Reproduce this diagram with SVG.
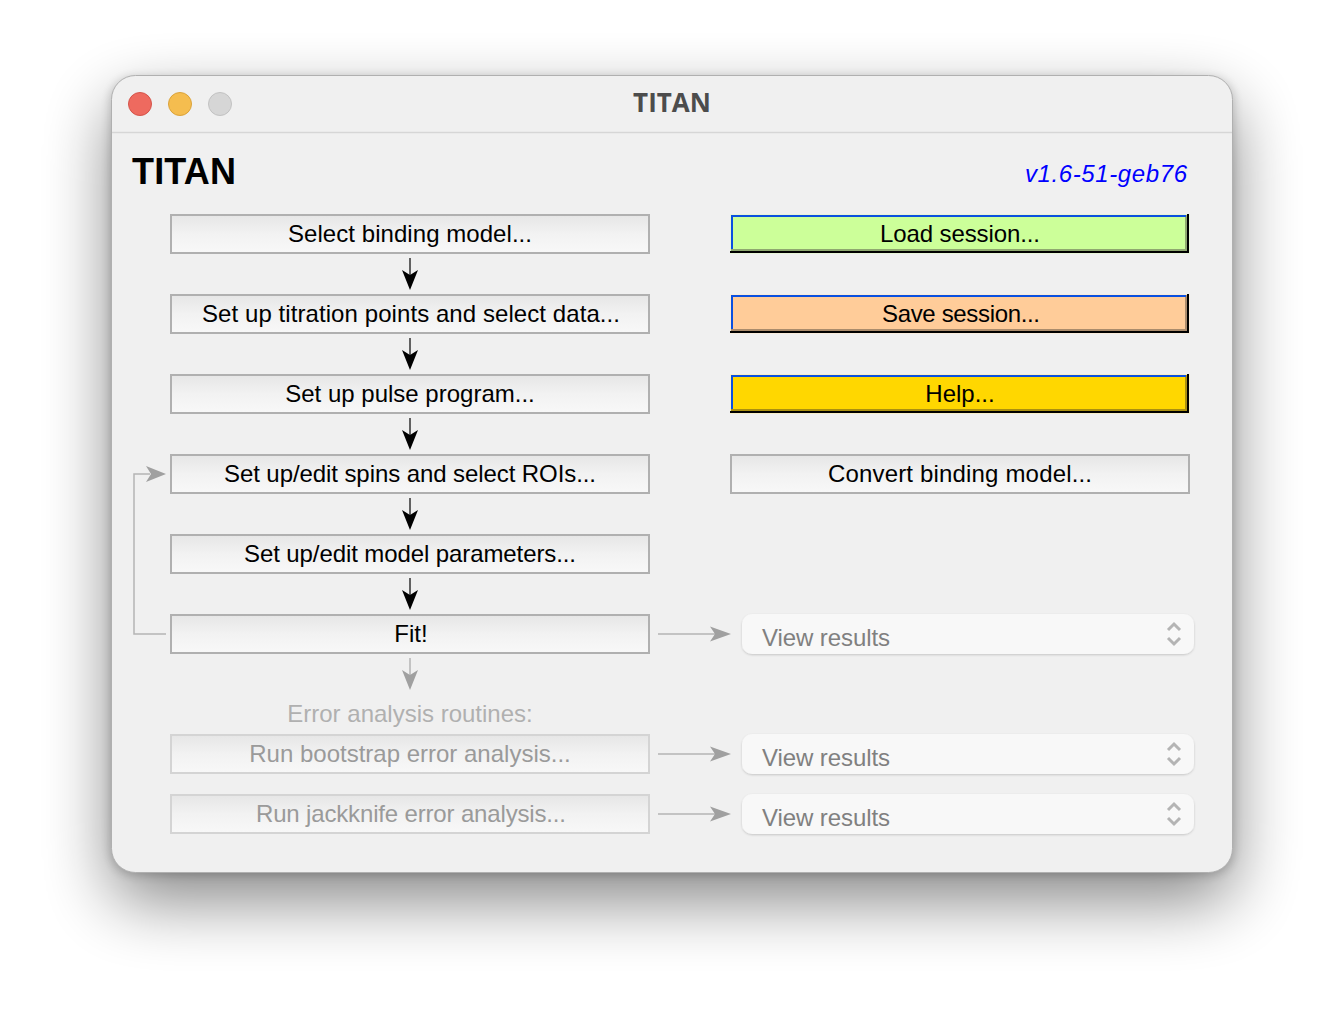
<svg xmlns="http://www.w3.org/2000/svg" width="1344" height="1020" viewBox="0 0 1344 1020">
<style>
text{font-family:"Liberation Sans",Arial,sans-serif;font-size:24px;text-anchor:middle;fill:#000}
.btn{fill:url(#bg);stroke:#b0b0b0;stroke-width:2}
.dis{fill:url(#bg);stroke:#d4d4d4;stroke-width:2}
.dt{fill:#9a9a9a}
.vt{fill:#808080;text-anchor:start}
.pop{fill:#f8f8f8;filter:url(#ps)}
.chev{fill:none;stroke:#b4b4b4;stroke-width:3}
.k{stroke:#333;stroke-width:1.500;fill:none}
.h{stroke:#b4b4b4;stroke-width:1.500;fill:none}
.blue{fill:#0a50e0}
.blk{fill:#000}
</style>
<defs>
<linearGradient id="bg" x1="0" y1="0" x2="0" y2="1"><stop offset="0" stop-color="#e6e6e6"/><stop offset="0.5" stop-color="#f2f2f2"/><stop offset="1" stop-color="#f8f8f8"/></linearGradient>
<filter id="sh" x="-20%" y="-25%" width="140%" height="150%"><feGaussianBlur stdDeviation="34"/></filter>
<filter id="sh2" x="-5%" y="-5%" width="110%" height="110%"><feGaussianBlur stdDeviation="5"/></filter>
<filter id="ps" x="-5%" y="-30%" width="110%" height="170%"><feDropShadow dx="0" dy="1" stdDeviation="1" flood-color="#000" flood-opacity="0.18"/></filter>
<path id="ad" d="M410 290L402 270L410 275L418 270Z"/>
</defs>
<rect width="1344" height="1020" fill="#fff"/>
<rect x="112" y="104" width="1120" height="796" rx="24" fill="#000" opacity="0.48" filter="url(#sh)"/>
<rect x="110" y="77" width="1124" height="798" rx="24" fill="#000" opacity="0.18" filter="url(#sh2)"/>
<rect x="111.500" y="75.500" width="1121" height="797" rx="24" fill="#f0f0f0" stroke="#b0b0b0"/>
<g id="titlebar">
<path d="M112 132.500H1232" stroke="#d6d6d6" stroke-width="1.500"/>
<circle cx="140" cy="104" r="11.500" fill="#ee6a5f" stroke="#d5544a"/>
<circle cx="180" cy="104" r="11.500" fill="#f5bd4f" stroke="#dba33a"/>
<circle cx="220" cy="104" r="11.500" fill="#d6d6d6" stroke="#c2c2c2"/>
<text x="672" y="112" style="font-size:26px;font-weight:bold;fill:#4c4c4c;font-family:'Open Sans','Liberation Sans',sans-serif">TITAN</text>
</g>
<g id="heading"><text x="132" y="184" textLength="104" style="font-size:36px;font-weight:bold;text-anchor:start">TITAN</text></g>
<g id="version"><text x="1025" y="182" textLength="162" style="font-size:24px;font-style:italic;fill:#0000ff;text-anchor:start">v1.6-51-geb76</text></g>
<g id="connectors">
<path class="k" d="M410 258V280M410 338V360M410 418V440M410 498V520M410 578V600"/>
<use href="#ad"/><use href="#ad" y="80"/><use href="#ad" y="160"/><use href="#ad" y="240"/><use href="#ad" y="320"/>
<path class="h" d="M410 658V680"/><use href="#ad" y="400" fill="#a0a0a0"/>
<path class="h" d="M166 634H134V474H150"/>
<path d="M166 474L146 466L151 474L146 482Z" fill="#a0a0a0"/>
<path class="h" d="M658 634H716M658 754H716M658 814H716"/>
<path d="M731 634L710 626.500L715 634L710 641.500Z" fill="#a0a0a0"/>
<path d="M731 754L710 746.500L715 754L710 761.500Z" fill="#a0a0a0"/>
<path d="M731 814L710 806.500L715 814L710 821.500Z" fill="#a0a0a0"/>
</g>
<g id="n1"><rect class="btn" x="171" y="215" width="478" height="38"/><text x="410" y="242" textLength="244">Select binding model...</text></g>
<g id="n2"><rect class="btn" x="171" y="295" width="478" height="38"/><text x="411" y="322" textLength="418">Set up titration points and select data...</text></g>
<g id="n3"><rect class="btn" x="171" y="375" width="478" height="38"/><text x="410" y="402">Set up pulse program...</text></g>
<g id="n4"><rect class="btn" x="171" y="455" width="478" height="38"/><text x="410" y="482" textLength="372">Set up/edit spins and select ROIs...</text></g>
<g id="n5"><rect class="btn" x="171" y="535" width="478" height="38"/><text x="410" y="562" textLength="332">Set up/edit model parameters...</text></g>
<g id="n6"><rect class="btn" x="171" y="615" width="478" height="38"/><text x="411" y="642">Fit!</text></g>
<g id="n7"><text class="dt" x="410" y="722" style="fill:#b0b0b0">Error analysis routines:</text></g>
<g id="n8"><rect class="dis" x="171" y="735" width="478" height="38"/><text class="dt" x="410" y="762">Run bootstrap error analysis...</text></g>
<g id="n9"><rect class="dis" x="171" y="795" width="478" height="38"/><text class="dt" x="411" y="822" textLength="310">Run jackknife error analysis...</text></g>
<g id="load"><rect x="730" y="214" width="460" height="40" fill="#e8f5d8"/><rect x="731" y="215" width="456" height="36" fill="#8fa870"/><rect class="blk" x="1187" y="214" width="2" height="39"/><rect class="blk" x="730" y="251" width="459" height="2"/><rect class="blue" x="731" y="215" width="455" height="2"/><rect class="blue" x="731" y="215" width="2" height="34"/><rect x="733" y="217" width="452" height="32" fill="#ccff99"/><text x="960" y="242" textLength="160">Load session...</text></g>
<g id="save"><rect x="730" y="294" width="460" height="40" fill="#f8ecdc"/><rect x="731" y="295" width="456" height="36" fill="#ab8c6c"/><rect class="blk" x="1187" y="294" width="2" height="39"/><rect class="blk" x="730" y="331" width="459" height="2"/><rect class="blue" x="731" y="295" width="455" height="2"/><rect class="blue" x="731" y="295" width="2" height="34"/><rect x="733" y="297" width="452" height="32" fill="#ffcc99"/><text x="961" y="322" textLength="158">Save session...</text></g>
<g id="help"><rect x="730" y="374" width="460" height="40" fill="#f8efc8"/><rect x="731" y="375" width="456" height="36" fill="#ab9010"/><rect class="blk" x="1187" y="374" width="2" height="39"/><rect class="blk" x="730" y="411" width="459" height="2"/><rect class="blue" x="731" y="375" width="455" height="2"/><rect class="blue" x="731" y="375" width="2" height="34"/><rect x="733" y="377" width="452" height="32" fill="#ffd700"/><text x="960" y="402">Help...</text></g>
<g id="convert"><rect class="btn" x="731" y="455" width="458" height="38"/><text x="960" y="482" textLength="264">Convert binding model...</text></g>
<g id="view1"><rect class="pop" x="742" y="614" width="452" height="40" rx="10"/><text class="vt" x="762" y="646" textLength="128">View results</text><path class="chev" d="M1168 630L1174 624L1180 630M1168 638L1174 644L1180 638"/></g>
<g id="view2"><rect class="pop" x="742" y="734" width="452" height="40" rx="10"/><text class="vt" x="762" y="766" textLength="128">View results</text><path class="chev" d="M1168 750L1174 744L1180 750M1168 758L1174 764L1180 758"/></g>
<g id="view3"><rect class="pop" x="742" y="794" width="452" height="40" rx="10"/><text class="vt" x="762" y="826" textLength="128">View results</text><path class="chev" d="M1168 810L1174 804L1180 810M1168 818L1174 824L1180 818"/></g>
</svg>
